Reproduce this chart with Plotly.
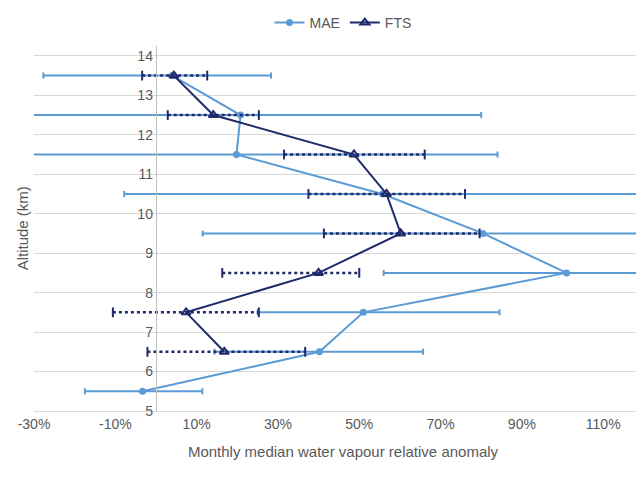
import plotly.graph_objects as go

altitude = [13.5, 12.5, 11.5, 10.5, 9.5, 8.5, 7.5, 6.5, 5.5]
mae = [4.0, 20.8, 19.8, 55.7, 80.4, 101.0, 51.0, 40.2, -3.3]
mae_lo = [-27.7, -33.0, -33.0, -7.8, 11.5, 56.0, 25.0, 14.4, -17.5]
mae_hi = [28.3, 80.0, 84.0, 119.0, 135.0, 135.0, 84.5, 65.7, 11.4]

fts_alt = [13.5, 12.5, 11.5, 10.5, 9.5, 8.5, 7.5, 6.5]
fts = [4.4, 14.1, 48.7, 56.7, 60.2, 40.0, 7.4, 16.8]
fts_lo = [-3.4, 2.9, 31.5, 37.5, 41.3, 16.3, -10.6, -2.1]
fts_hi = [12.6, 25.3, 66.1, 76.0, 79.6, 50.0, 25.3, 36.7]

light = "#5B9BD5"
navy = "#1F2A6B"

fig = go.Figure()
fig.add_trace(go.Scatter(
    x=mae, y=altitude, name="MAE", mode="lines+markers",
    line=dict(color=light, width=2), marker=dict(color=light, size=7),
    error_x=dict(type="data", symmetric=False,
                 array=[h - m for h, m in zip(mae_hi, mae)],
                 arrayminus=[m - l for l, m in zip(mae_lo, mae)],
                 color=light, thickness=2, width=3)))

# dotted error bars for FTS
ex, ey = [], []
for a, l, h in zip(fts_alt, fts_lo, fts_hi):
    ex += [l, h, None]
    ey += [a, a, None]
fig.add_trace(go.Scatter(x=ex, y=ey, mode="lines", showlegend=False,
                         line=dict(color=navy, width=2.5, dash="dot"),
                         hoverinfo="skip"))
fig.add_trace(go.Scatter(x=fts_lo + fts_hi, y=fts_alt + fts_alt, mode="markers",
                         showlegend=False, hoverinfo="skip",
                         marker=dict(symbol="line-ns", size=7,
                                     line=dict(color=navy, width=2))))
fig.add_trace(go.Scatter(
    x=fts, y=fts_alt, name="FTS", mode="lines+markers",
    line=dict(color=navy, width=2),
    marker=dict(symbol="triangle-up-open", size=8, color=navy,
                line=dict(color=navy, width=2))))

fig.update_layout(
    width=644, height=480, plot_bgcolor="white", paper_bgcolor="white",
    font=dict(family="Liberation Sans", size=14, color="#595959"),
    margin=dict(l=26, r=0, t=38, b=77, autoexpand=False),
    legend=dict(orientation="h", x=0.5, xanchor="center", y=1.063, yanchor="middle",
                font=dict(size=14)),
    xaxis=dict(range=[-30, 122], tickvals=list(range(-30, 111, 20)),
               ticktext=[f"{v}%" for v in range(-30, 111, 20)],
               showgrid=False, zeroline=False, showline=True, linecolor="#D9D9D9",
               ticks="", automargin=False,
               title=dict(text="Monthly median water vapour relative anomaly",
                          font=dict(size=15))),
    yaxis=dict(range=[5, 14.25], dtick=1, tick0=5, gridcolor="#D9D9D9",
               zeroline=False, showline=True, linecolor="#BFBFBF",
               anchor="free", position=0.197, ticks="", automargin=False),
    annotations=[dict(text="Altitude (km)", x=-0.035, y=0.5, xref="paper",
                      yref="paper", textangle=-90, showarrow=False,
                      font=dict(size=15))],
)
fig.write_html("out.html")
